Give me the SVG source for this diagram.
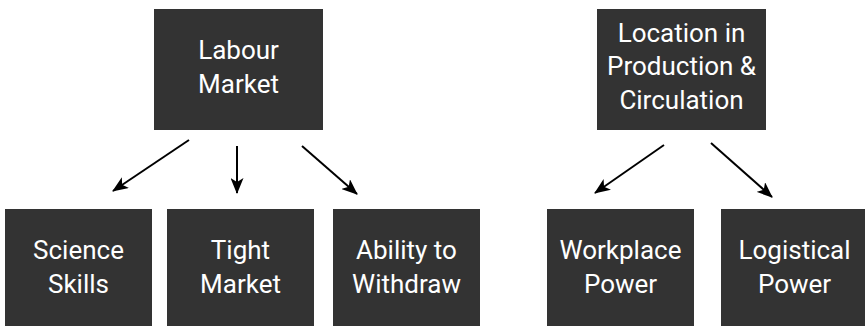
<svg xmlns="http://www.w3.org/2000/svg" width="865" height="326" viewBox="0 0 865 326">
  <style>
    .box { fill: #333333; }
    .lbl { fill: #ffffff; font-family: Roboto, "Liberation Sans", sans-serif; font-size: 26px; text-anchor: middle; }
    .conn { stroke: #000000; stroke-width: 2; fill: none; marker-end: url(#arrow); }
  </style>
  <defs>
    <marker id="arrow" markerUnits="userSpaceOnUse" viewBox="0 0 16 13" markerWidth="16" markerHeight="13" refX="15" refY="6.5" orient="auto">
      <path d="M0,0 L16,6.5 L0,13 L4,6.5 z" fill="#000000"/>
    </marker>
  </defs>
  <rect width="865" height="326" fill="#ffffff"/>

  <g id="labour-market">
    <rect class="box" x="154" y="9" width="169" height="121"/>
    <text class="lbl" x="238.5" y="59">Labour</text>
    <text class="lbl" x="238.5" y="93">Market</text>
  </g>
  <g id="location">
    <rect class="box" x="597" y="9" width="169" height="121"/>
    <text class="lbl" x="681.5" y="41.5">Location in</text>
    <text class="lbl" x="681.5" y="75">Production &amp;</text>
    <text class="lbl" x="681.5" y="108.5">Circulation</text>
  </g>
  <g id="science-skills">
    <rect class="box" x="5" y="209" width="147" height="117"/>
    <text class="lbl" x="78.5" y="259">Science</text>
    <text class="lbl" x="78.5" y="293">Skills</text>
  </g>
  <g id="tight-market">
    <rect class="box" x="167" y="209" width="147" height="117"/>
    <text class="lbl" x="240.5" y="259">Tight</text>
    <text class="lbl" x="240.5" y="293">Market</text>
  </g>
  <g id="ability-to-withdraw">
    <rect class="box" x="333" y="209" width="147" height="117"/>
    <text class="lbl" x="406.5" y="259">Ability to</text>
    <text class="lbl" x="406.5" y="293">Withdraw</text>
  </g>
  <g id="workplace-power">
    <rect class="box" x="547" y="209" width="147" height="117"/>
    <text class="lbl" x="620.5" y="259">Workplace</text>
    <text class="lbl" x="620.5" y="293">Power</text>
  </g>
  <g id="logistical-power">
    <rect class="box" x="721" y="209" width="147" height="117"/>
    <text class="lbl" x="794.5" y="259">Logistical</text>
    <text class="lbl" x="794.5" y="293">Power</text>
  </g>

  <g id="connectors">
    <line class="conn" x1="189" y1="140" x2="113" y2="191"/>
    <line class="conn" x1="237" y1="146" x2="237" y2="193"/>
    <line class="conn" x1="302" y1="146" x2="357" y2="194"/>
    <line class="conn" x1="664" y1="145" x2="595" y2="193"/>
    <line class="conn" x1="711" y1="143" x2="772" y2="197"/>
  </g>
</svg>
